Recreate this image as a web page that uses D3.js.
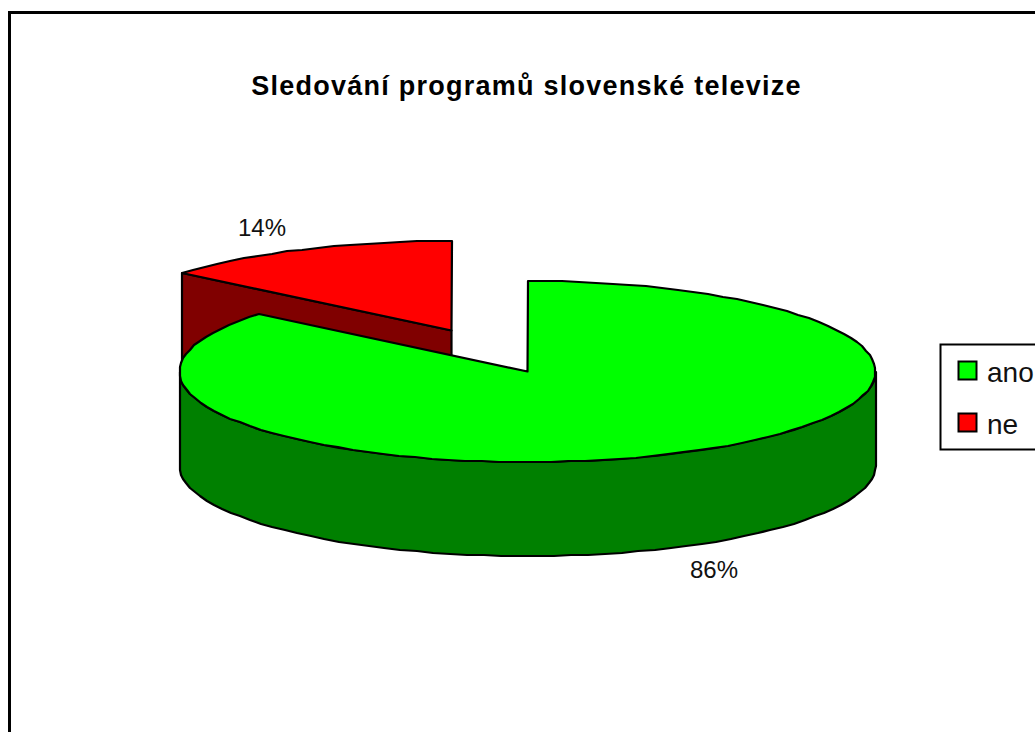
<!DOCTYPE html>
<html>
<head>
<meta charset="utf-8">
<script src="https://cdn.jsdelivr.net/npm/d3@7/dist/d3.min.js"></script>
<style>
html,body{margin:0;padding:0;background:#fff;overflow:hidden}
svg{display:block}
text{font-family:"Liberation Sans",Arial,sans-serif;fill:#111}
</style>
</head>
<body>
<svg id="chart" width="1035" height="732"></svg>
<script>
const titleText = "Sledování programů slovenské televize";
const categories = ["ano", "ne"];
const shares = [86, 14];
const topColors = ["#00ff00", "#ff0000"];
const sideColors = ["#008000", "#800000"];

const svg = d3.select("#chart");

// Outer frame runs past the right and bottom edges of the page
svg.append("rect").attr("x", 9.5).attr("y", 12.5).attr("width", 1100).attr("height", 800)
  .attr("fill", "#fff").attr("stroke", "#000").attr("stroke-width", 3);

svg.append("text").attr("x", 526.5).attr("y", 95).attr("text-anchor", "middle")
  .attr("font-size", 27).attr("font-weight", "bold").attr("letter-spacing", 1.25)
  .style("fill", "#000").text(titleText);

// Angles run clockwise from twelve o'clock; "ano" starts there and "ne" closes the circle
const arcs = d3.pie().sort(null).value(d => d)(shares);

const depth = 94;
const pieGeometry = [
  {x: 527.5, y: 371.5, rx: 348, ry: 90.5},
  {x: 451.5, y: 330.5, rx: 350, ry: 89.5}
];

// Rim points snap to whole pixels, which gives the outline its stepped look
const rimPoint = (c, a) => [
  Math.round(c.x + c.rx * Math.sin(a)),
  Math.round(c.y - c.ry * Math.cos(a))
];
const rim = (c, a0, a1) => {
  const n = Math.max(2, Math.ceil(Math.abs(a1 - a0) / 0.05));
  return d3.range(n + 1).map(i => rimPoint(c, a0 + (a1 - a0) * i / n));
};
const line = d3.line();
const drawShape = (pts, fill) => svg.append("path")
  .attr("d", line(pts) + "Z").attr("fill", fill)
  .attr("stroke", "#000").attr("stroke-width", 2.2)
  .attr("stroke-linejoin", "round");

// Detached "ne" slice: cut face first, top on top of it
{
  const c = pieGeometry[1], a = arcs[1];
  const apex = [c.x, c.y];
  const edge = rimPoint(c, a.startAngle);
  drawShape([apex, edge, [edge[0], edge[1] + depth], [apex[0], apex[1] + depth]], sideColors[1]);
  drawShape([apex, ...rim(c, a.startAngle, a.endAngle)], topColors[1]);
}

// "ano" slice: front wall from three o'clock to nine o'clock, then the top
{
  const c = pieGeometry[0], a = arcs[0];
  const front = rim(c, Math.PI / 2, 3 * Math.PI / 2);
  drawShape([...front, ...front.slice().reverse().map(p => [p[0], p[1] + depth])], sideColors[0]);
  drawShape([[c.x, c.y], ...rim(c, a.startAngle, a.endAngle)], topColors[0]);
}

// Percentage labels
const labels = [{i: 0, x: 714, y: 578}, {i: 1, x: 262, y: 236}];
svg.selectAll(".pct").data(labels).join("text").attr("class", "pct")
  .attr("x", d => d.x).attr("y", d => d.y).attr("text-anchor", "middle")
  .attr("font-size", 24).text(d => shares[d.i] + "%");

// Legend, clipped by the page's right edge
svg.append("rect").attr("x", 940.5).attr("y", 344.5).attr("width", 140).attr("height", 105)
  .attr("fill", "#fff").attr("stroke", "#000").attr("stroke-width", 2);
const legendY = d3.scalePoint().domain(categories).range([370.5, 422.5]);
categories.forEach((name, i) => {
  svg.append("rect").attr("x", 958.5).attr("y", legendY(name) - 9).attr("width", 18).attr("height", 18)
    .attr("fill", topColors[i]).attr("stroke", "#000").attr("stroke-width", 2);
  svg.append("text").attr("x", 987).attr("y", legendY(name) + 11.5)
    .attr("font-size", 28).text(name);
});
</script>
</body>
</html>
